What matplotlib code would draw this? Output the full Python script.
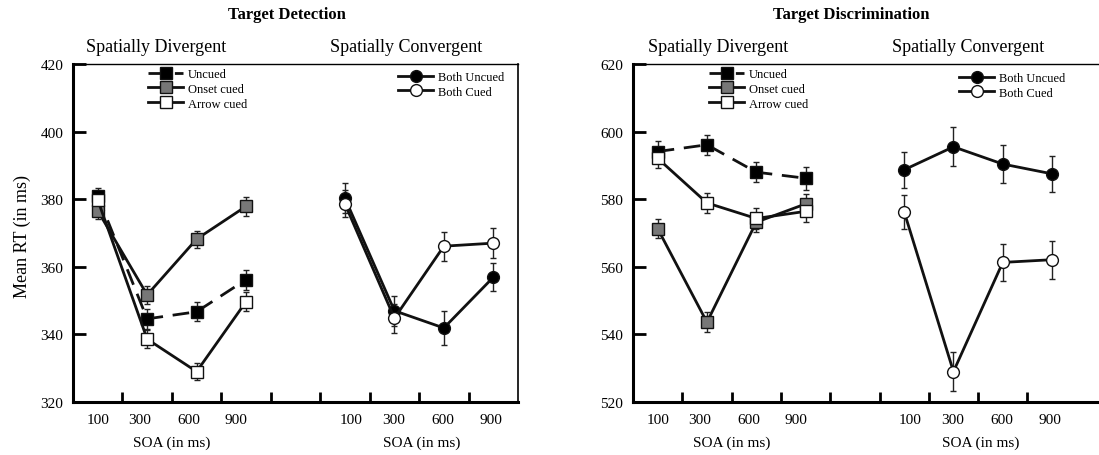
import matplotlib.pyplot as plt

plt.rcParams['font.family'] = ['Liberation Serif', 'DejaVu Serif']

W, H = 1099, 456

soa_labels = ['100', '300', '600', '900']

# Target Detection - spatially divergent
det_uncued = [381.0, 344.6, 346.7, 356.2]
det_uncued_err = [2.2, 3.0, 2.8, 3.0]
det_onset = [376.6, 351.7, 368.2, 377.9]
det_onset_err = [2.5, 2.6, 2.5, 2.8]
det_arrow = [379.8, 338.6, 329.0, 349.7]
det_arrow_err = [2.5, 2.6, 2.6, 2.8]
# Target Detection - spatially convergent
det_both_uncued = [380.3, 347.0, 341.9, 356.9]
det_both_uncued_err = [4.4, 4.5, 4.9, 4.2]
det_both_cued = [378.6, 344.8, 366.1, 367.0]
det_both_cued_err = [4.0, 4.3, 4.3, 4.5]

# Target Discrimination - spatially divergent
dis_uncued = [594.1, 596.1, 588.0, 586.2]
dis_uncued_err = [3.0, 3.0, 3.0, 3.4]
dis_onset = [571.3, 543.6, 573.2, 578.6]
dis_onset_err = [2.8, 3.0, 2.8, 3.0]
dis_arrow = [592.1, 578.9, 574.3, 576.4]
dis_arrow_err = [3.0, 3.0, 3.0, 3.0]
# Target Discrimination - spatially convergent
dis_both_uncued = [588.7, 595.5, 590.4, 587.5]
dis_both_uncued_err = [5.4, 5.8, 5.6, 5.4]
dis_both_cued = [576.3, 529.0, 561.3, 562.1]
dis_both_cued_err = [5.0, 5.8, 5.5, 5.6]

div_x = [0.5, 1.5, 2.5, 3.5]
con_x = [5.5, 6.5, 7.5, 8.5]
label_x = [0.5, 1.35, 2.35, 3.3, 5.62, 6.48, 7.48, 8.45]

GRAY = '#777777'


def series(ax, x, y, err, marker, face, ls='-', label=None):
    ax.errorbar(x, y, yerr=err, fmt='none', ecolor='#222222', elinewidth=1.0,
                capsize=2.5, capthick=1.0, zorder=2)
    line, = ax.plot(x, y, ls=ls, color='#111111', lw=2.0, marker=marker,
                    ms=8.3 if marker == 's' else 8.5, mfc=face, mec='#111111',
                    mew=1.0, zorder=3, label=label,
                    dashes=(6, 3.5) if ls == '--' else (None, None))
    return line


def panel(left_px, width_px, ylim, data, right_spine=True, xmax=9):
    ax = fig.add_axes([left_px / W, 1 - 403 / H, width_px / W, 338 / H])
    (unc, unc_e, ons, ons_e, arr, arr_e, bu, bu_e, bc, bc_e) = data
    l1 = series(ax, div_x, unc, unc_e, 's', 'black', ls='--', label='Uncued')
    l2 = series(ax, div_x, ons, ons_e, 's', GRAY, label='Onset cued')
    l3 = series(ax, div_x, arr, arr_e, 's', 'white', label='Arrow cued')
    l4 = series(ax, con_x, bu, bu_e, 'o', 'black', label='Both Uncued')
    l5 = series(ax, con_x, bc, bc_e, 'o', 'white', label='Both Cued')
    ax.set_xlim(0, xmax)
    ax.set_ylim(*ylim)
    ax.set_yticks(range(ylim[0], ylim[1] + 1, 20))
    ax.tick_params(axis='y', direction='in', length=9, width=2, labelsize=11, pad=7)
    ax.set_xticks(range(1, 9))
    ax.set_xticks(label_x, minor=True)
    ax.set_xticklabels(soa_labels * 2, minor=True)
    ax.tick_params(axis='x', which='major', direction='in', length=7, width=2,
                   labelbottom=False)
    ax.tick_params(axis='x', which='minor', length=0, labelsize=11, pad=8)
    ax.spines['left'].set_linewidth(2.2)
    ax.spines['bottom'].set_linewidth(2.2)
    ax.spines['top'].set_linewidth(1.0)
    ax.spines['right'].set_linewidth(1.2)
    ax.spines['right'].set_visible(right_spine)
    for cx in (2.0, 7.05):
        ax.text(cx, -0.118, 'SOA (in ms)', transform=ax.get_xaxis_transform(),
                ha='center', va='center', fontsize=11)
    return ax, (l1, l2, l3), (l4, l5)


def legend(handles, x_px, top_px):
    fig.legend(handles=handles, loc='upper left',
               bbox_to_anchor=(x_px / W, 1 - top_px / H),
               bbox_transform=fig.transFigure, frameon=False, fontsize=9,
               handlelength=2.8, handletextpad=0.4, labelspacing=0.22,
               borderpad=0, borderaxespad=0)


fig = plt.figure(figsize=(W / 100, H / 100), dpi=100)

ax1, h_div, h_con = panel(73, 445, (320, 420),
                          (det_uncued, det_uncued_err, det_onset, det_onset_err,
                           det_arrow, det_arrow_err, det_both_uncued,
                           det_both_uncued_err, det_both_cued, det_both_cued_err))
legend(list(h_div), 148, 69)
legend(list(h_con), 398, 72)

ax2, h_div2, h_con2 = panel(633, W - 633 + 2, (520, 620),
                            (dis_uncued, dis_uncued_err, dis_onset, dis_onset_err,
                             dis_arrow, dis_arrow_err, dis_both_uncued,
                             dis_both_uncued_err, dis_both_cued, dis_both_cued_err),
                            right_spine=False, xmax=(W - 633 + 2) / 49.3)
legend(list(h_div2), 709, 69)
legend(list(h_con2), 959, 73)

fig.text(22 / W, 1 - 237 / H, 'Mean RT (in ms)', rotation=90, ha='center',
         va='center', fontsize=13)

fig.text(287 / W, 1 - 15 / H, 'Target Detection', ha='center', va='center',
         fontsize=12, fontweight='bold')
fig.text(851 / W, 1 - 15 / H, 'Target Discrimination', ha='center', va='center',
         fontsize=12, fontweight='bold')
for cx, txt in [(156, 'Spatially Divergent'), (406, 'Spatially Convergent'),
                (718, 'Spatially Divergent'), (968, 'Spatially Convergent')]:
    fig.text(cx / W, 1 - 48 / H, txt, ha='center', va='center', fontsize=13)

fig.savefig('out.png', dpi=100)
